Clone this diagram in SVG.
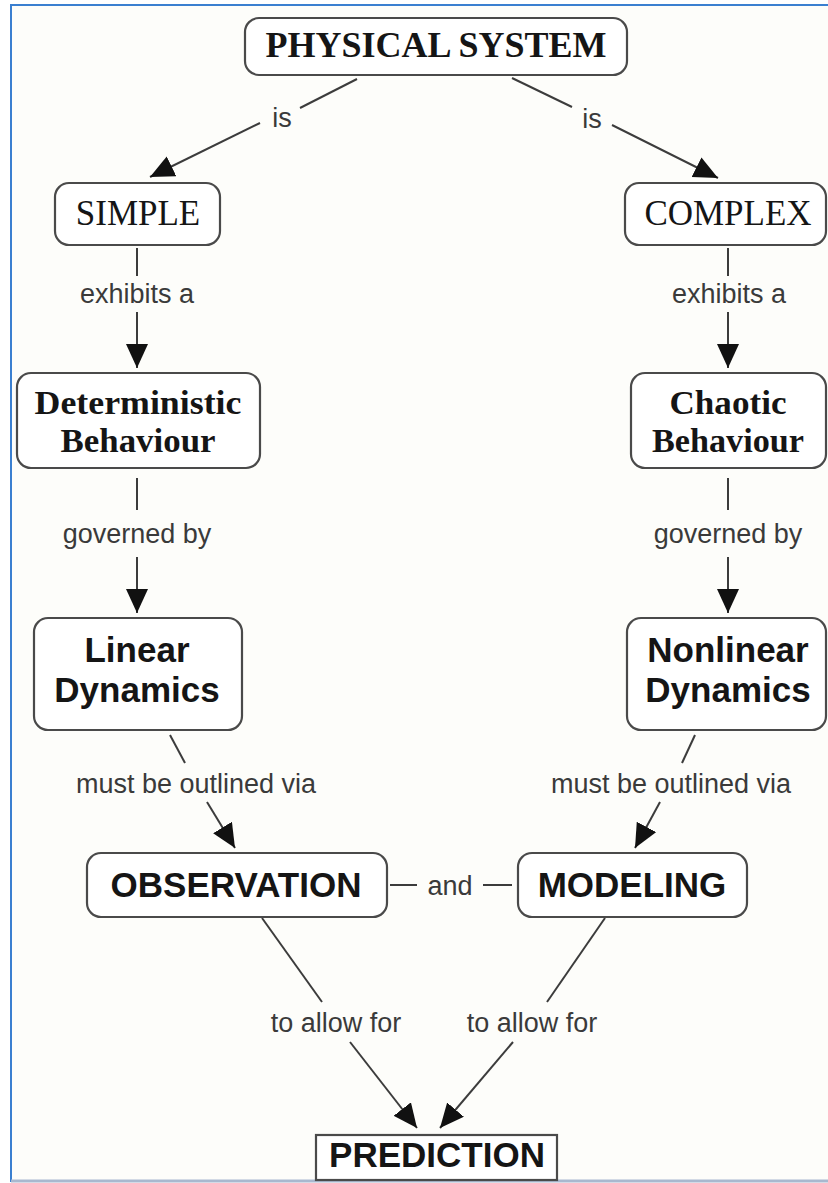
<svg xmlns="http://www.w3.org/2000/svg" width="828" height="1183" viewBox="0 0 828 1183">
  <defs>
    <marker id="arrow" markerUnits="userSpaceOnUse" markerWidth="26" markerHeight="24" refX="24" refY="11" orient="auto">
      <path d="M0,0 L24,11 L0,22 Z" fill="#111"/>
    </marker>
    <style>
      .box { fill: #ffffff; stroke: #4a4a4a; stroke-width: 2.2; }
      .serif { font-family: "Liberation Serif", "Times New Roman", serif; fill: #151515; text-anchor: middle; }
      .sans { font-family: "Liberation Sans", Arial, sans-serif; font-weight: bold; fill: #151515; text-anchor: middle; font-size: 35px; }
      .lbl { font-family: "Liberation Sans", Arial, sans-serif; font-size: 27px; fill: #3a3a3a; text-anchor: middle; }
      .link { fill: none; stroke: #3c3c3c; stroke-width: 2; }
      .arr { marker-end: url(#arrow); }
    </style>
  </defs>

  <!-- page frame -->
  <rect x="0" y="0" width="828" height="1183" fill="#ffffff"/>
  <rect x="11" y="5" width="830" height="1176" fill="#fdfdfa" stroke="#3a7fd0" stroke-width="2"/>
  <line x1="11" y1="1181" x2="828" y2="1181" stroke="#a9b8cf" stroke-width="3"/>

  <!-- connectors and linking phrases -->
  <g id="connectors">
    <path class="link" d="M357,79 L300,108"/>
    <path class="link arr" d="M260,123 L150,177"/>
    <text class="lbl" x="282" y="127">is</text>

    <path class="link" d="M512,78 L572,107"/>
    <path class="link arr" d="M612,125 L718,178"/>
    <text class="lbl" x="592" y="128">is</text>

    <path class="link" d="M137,248 L137,276"/>
    <path class="link arr" d="M137,312 L137,368"/>
    <text class="lbl" x="137" y="303">exhibits a</text>

    <path class="link" d="M728,248 L728,276"/>
    <path class="link arr" d="M728,312 L728,368"/>
    <text class="lbl" x="729" y="303">exhibits a</text>

    <path class="link" d="M137,478 L137,510"/>
    <path class="link arr" d="M137,557 L137,613"/>
    <text class="lbl" x="137" y="543">governed by</text>

    <path class="link" d="M728,478 L728,510"/>
    <path class="link arr" d="M728,557 L728,613"/>
    <text class="lbl" x="728" y="543">governed by</text>

    <path class="link" d="M170,735 L185,763"/>
    <path class="link arr" d="M207,802 L235,848"/>
    <text class="lbl" x="196" y="793">must be outlined via</text>

    <path class="link" d="M695,735 L682,763"/>
    <path class="link arr" d="M660,802 L635,848"/>
    <text class="lbl" x="671" y="793">must be outlined via</text>

    <path class="link" d="M390,885 L417,885"/>
    <path class="link" d="M483,885 L512,885"/>
    <text class="lbl" x="450" y="895">and</text>

    <path class="link" d="M262,918 L322,1002"/>
    <path class="link arr" d="M350,1042 L417,1128"/>
    <text class="lbl" x="336" y="1032">to allow for</text>

    <path class="link" d="M605,918 L547,1002"/>
    <path class="link arr" d="M513,1042 L440,1128"/>
    <text class="lbl" x="532" y="1032">to allow for</text>
  </g>

  <!-- concepts -->
  <g id="physical-system">
    <rect class="box" x="245" y="18" width="382" height="57" rx="14"/>
    <text class="serif" x="436" y="57" font-size="36" font-weight="bold">PHYSICAL SYSTEM</text>
  </g>

  <g id="simple">
    <rect class="box" x="55" y="183" width="165" height="62" rx="14"/>
    <text class="serif" x="138" y="225" font-size="35">SIMPLE</text>
  </g>

  <g id="complex">
    <rect class="box" x="625" y="183" width="201" height="62" rx="14"/>
    <text class="serif" x="728" y="225" font-size="35">COMPLEX</text>
  </g>

  <g id="deterministic">
    <rect class="box" x="17" y="373" width="243" height="95" rx="14"/>
    <text class="serif" x="138" y="414" font-size="34" font-weight="bold" textLength="207" lengthAdjust="spacingAndGlyphs">Deterministic</text>
    <text class="serif" x="138" y="452" font-size="34" font-weight="bold" textLength="155" lengthAdjust="spacingAndGlyphs">Behaviour</text>
  </g>

  <g id="chaotic">
    <rect class="box" x="631" y="373" width="195" height="95" rx="14"/>
    <text class="serif" x="728" y="414" font-size="34" font-weight="bold" textLength="117" lengthAdjust="spacingAndGlyphs">Chaotic</text>
    <text class="serif" x="728" y="452" font-size="34" font-weight="bold" textLength="152" lengthAdjust="spacingAndGlyphs">Behaviour</text>
  </g>

  <g id="linear">
    <rect class="box" x="34" y="618" width="208" height="112" rx="14"/>
    <text class="sans" x="137" y="662">Linear</text>
    <text class="sans" x="137" y="702">Dynamics</text>
  </g>

  <g id="nonlinear">
    <rect class="box" x="627" y="618" width="199" height="112" rx="14"/>
    <text class="sans" x="728" y="662">Nonlinear</text>
    <text class="sans" x="728" y="702">Dynamics</text>
  </g>

  <g id="observation">
    <rect class="box" x="87" y="853" width="300" height="64" rx="14"/>
    <text class="sans" x="236" y="897">OBSERVATION</text>
  </g>

  <g id="modeling">
    <rect class="box" x="518" y="853" width="229" height="64" rx="14"/>
    <text class="sans" x="632" y="897">MODELING</text>
  </g>

  <g id="prediction">
    <rect class="box" x="316" y="1135" width="241" height="45" stroke-width="2.5"/>
    <text class="sans" x="437" y="1167">PREDICTION</text>
  </g>
</svg>
